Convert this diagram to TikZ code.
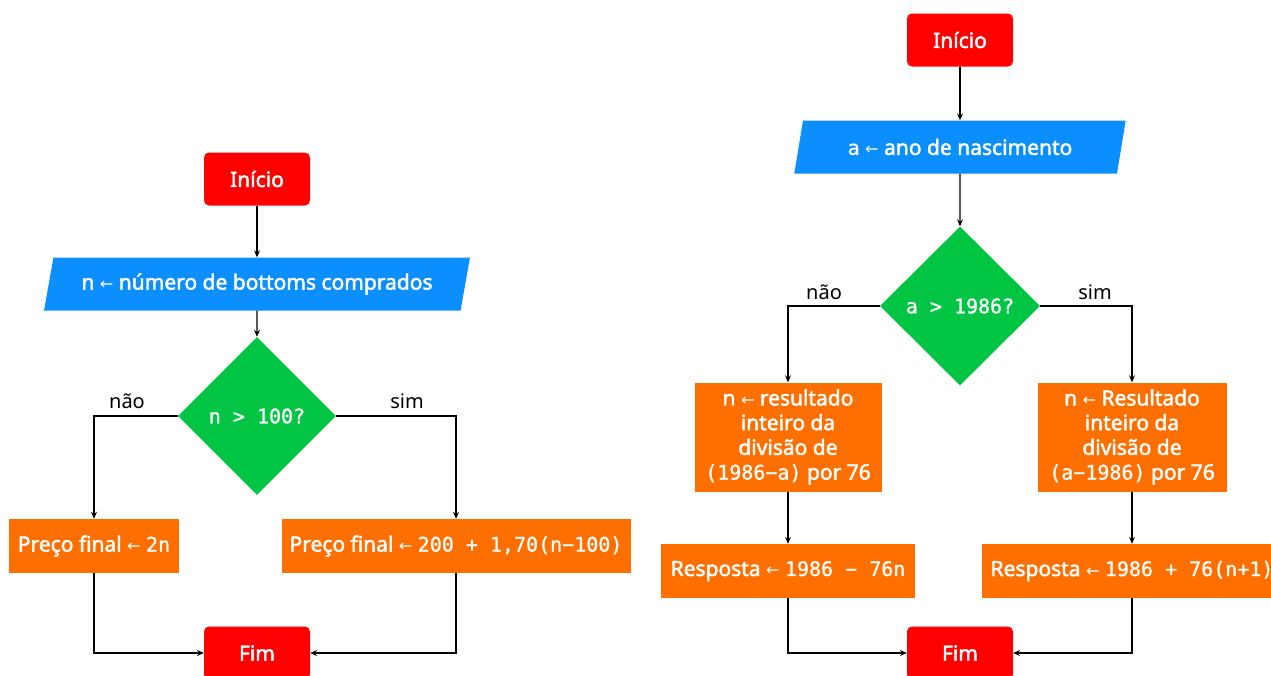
\documentclass[tikz,border=0pt]{standalone}
\usepackage{fontspec}
\setmainfont{Noto Sans}[AutoFakeBold=2.2]
\newfontfamily\codefont{DejaVu Sans Mono}[FakeBold=1.0]
\newfontfamily\symfont{DejaVu Sans}
\usetikzlibrary{shapes.geometric,arrows.meta}

% text sizes, inline code and the assignment arrow
\newcommand\basesize{\fontsize{21}{24.7}\selectfont}
\newcommand\labelsize{\fontsize{20}{24}\selectfont}
\newcommand\code[1]{{\codefont\mdseries\fontsize{20}{24.7}\selectfont #1}}
\newcommand\assign{ {\symfont\mdseries\fontsize{16}{16}\selectfont ←} }

\definecolor{termred}{RGB}{255,0,0}
\definecolor{ioblue}{RGB}{11,143,255}
\definecolor{decgreen}{RGB}{3,197,68}
\definecolor{procorange}{RGB}{255,111,0}

\tikzset{
  term/.style={fill=termred, rounded corners=5pt, minimum width=106, minimum height=53,
    inner sep=0, text=white, font=\basesize\bfseries},
  io/.style={trapezium, trapezium left angle=69, trapezium right angle=111,
    trapezium stretches=true, fill=ioblue, text=white, font=\basesize\bfseries,
    minimum height=53, inner sep=0},
  dec/.style={diamond, fill=decgreen, text=white, minimum width=158, minimum height=158,
    inner sep=0, font=\basesize},
  proc/.style={fill=procorange, text=white, font=\basesize\bfseries, minimum height=54,
    inner sep=0, align=center},
  flow/.style={draw=black, line width=1.1pt, -{Stealth[length=7pt,width=6pt,inset=2.5pt]}},
  lbl/.style={font=\labelsize\mdseries, text=black, inner sep=0}
}

\begin{document}
\begin{tikzpicture}[x=1pt, y=-1pt]
\useasboundingbox (0,0) rectangle (1271,675);
\clip (0,0) rectangle (1271,675);

% ---- price of bottoms ----
\node[term] (s1) at (257,179) {Início};
\node[io, minimum width=427] (i1) at (257,284) {n\assign número de bottoms comprados};
\node[dec] (d1) at (257,416) {\code{n > 100?}};
\node[proc, minimum width=170] (b1) at (94,546) {Preço final\assign\code{2n}};
\node[proc, minimum width=349] (b2) at (456,546) {Preço final\assign\code{200 + 1,70(n−100)}};
\node[term] (f1) at (257,653) {Fim};
\node[lbl] (n1) at (127,401) {não};
\node[lbl] (y1) at (407,401) {sim};

\draw[flow] (s1) -- (i1);
\draw[flow] (i1) -- (d1);
\draw[flow] (d1.west) -| (b1.north);
\draw[flow] (d1.east) -| (b2.north);
\draw[flow] (b1.south) |- (f1.west);
\draw[flow] (b2.south) |- (f1.east);

% ---- year of birth ----
\node[term] (s2) at (960,40) {Início};
\node[io, minimum width=332] (i2) at (960,147) {\code{a}\assign ano de nascimento};
\node[dec, minimum width=160, minimum height=159] (d2) at (960,306) {\code{a > 1986?}};
\node[proc, minimum width=187, minimum height=109] (c1) at (788,437)
  {n\assign resultado\\inteiro da\\divisão de\\\code{(1986−a)} por 76};
\node[proc, minimum width=189, minimum height=109] (c2) at (1132,437)
  {n\assign Resultado\\inteiro da\\divisão de\\\code{(a−1986)} por 76};
\node[proc, minimum width=254] (r1) at (788,571) {Resposta\assign\code{1986 − 76n}};
\node[proc, minimum width=300] (r2) at (1132,571) {Resposta\assign\code{1986 + 76(n+1)}};
\node[term] (f2) at (960,653) {Fim};
\node[lbl] (n2) at (824,292) {não};
\node[lbl] (y2) at (1095,292) {sim};

\draw[flow] (s2) -- (i2);
\draw[flow] (i2) -- (d2);
\draw[flow] (d2.west) -| (c1.north);
\draw[flow] (d2.east) -| (c2.north);
\draw[flow] (c1) -- (r1);
\draw[flow] (c2) -- (r2);
\draw[flow] (r1.south) |- (f2.west);
\draw[flow] (r2.south) |- (f2.east);
\end{tikzpicture}
\end{document}
